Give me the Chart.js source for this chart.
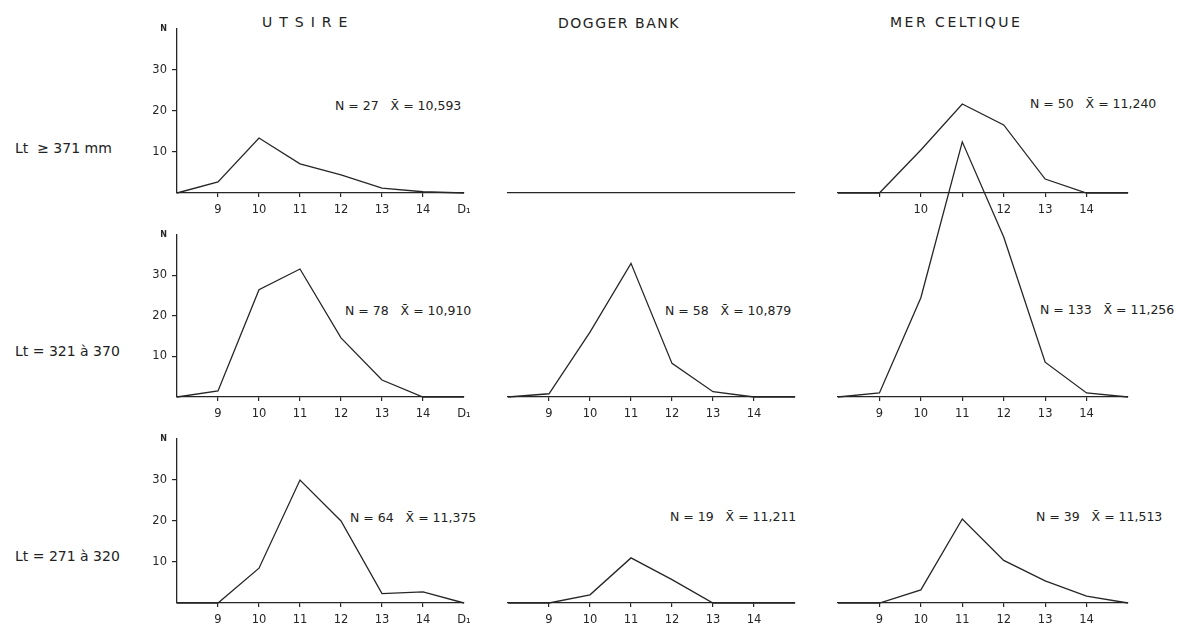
<!DOCTYPE html>
<html lang="fr">
<head>
<meta charset="UTF-8">
<title>Utsire - Dogger Bank - Mer Celtique</title>
<script src="https://cdn.jsdelivr.net/npm/chart.js"></script>
<style>
    body {
        margin: 0;
        background: #fff;
        width: 1187px;
        height: 625px;
        position: relative;
        overflow: hidden;
        font-family: "DejaVu Sans", sans-serif;
        color: #222;
    }
    canvas { position: absolute; }
    .txt { position: absolute; white-space: pre; line-height: 14px; font-size: 12.5px; }
    .titre { font-size: 14px; }
    .ligne { font-size: 14px; }
</style>
</head>
<body>

<div class="txt titre" style="left:262px;top:15px;letter-spacing:7px">UTSIRE</div>
<div class="txt titre" style="left:558px;top:16px;letter-spacing:1.5px">DOGGER BANK</div>
<div class="txt titre" style="left:890px;top:15px;letter-spacing:2.5px">MER CELTIQUE</div>

<div class="txt ligne" style="left:15px;top:141px">Lt  ≥ 371 mm</div>
<div class="txt ligne" style="left:15px;top:344px">Lt = 321 à 370</div>
<div class="txt ligne" style="left:15px;top:549px">Lt = 271 à 320</div>

<div class="txt" style="left:335px;top:99px">N = 27   X̄ = 10,593</div>
<div class="txt" style="left:1030px;top:97px">N = 50   X̄ = 11,240</div>
<div class="txt" style="left:345px;top:304px">N = 78   X̄ = 10,910</div>
<div class="txt" style="left:665px;top:304px">N = 58   X̄ = 10,879</div>
<div class="txt" style="left:1040px;top:303px">N = 133   X̄ = 11,256</div>
<div class="txt" style="left:350px;top:511px">N = 64   X̄ = 11,375</div>
<div class="txt" style="left:670px;top:510px">N = 19   X̄ = 11,211</div>
<div class="txt" style="left:1036px;top:510px">N = 39   X̄ = 11,513</div>

<canvas id="c00"></canvas>
<canvas id="c01"></canvas>
<canvas id="c02"></canvas>
<canvas id="c10"></canvas>
<canvas id="c11"></canvas>
<canvas id="c20"></canvas>
<canvas id="c21"></canvas>
<canvas id="c22"></canvas>
<canvas id="c12"></canvas>

<script>
    // classes de D1
    var classes = [8, 9, 10, 11, 12, 13, 14, 15];

    // effectifs N
    var utsire_371 = [0, 2.7, 13.4, 7.1, 4.4, 1.2, 0.3, 0];
    var dogger_371 = [];
    var celtique_371 = [0, 0, 10.5, 21.7, 16.6, 3.4, 0, 0];

    var utsire_321 = [0, 1.5, 26.5, 31.6, 14.6, 4.2, 0, 0];
    var dogger_321 = [0, 0.8, 16, 33, 8.3, 1.3, 0, 0];
    var celtique_321 = [0, 1, 24.5, 63, 39.5, 8.6, 1, 0];

    var utsire_271 = [0, 0, 8.5, 30, 20, 2.3, 2.7, 0];
    var dogger_271 = [0, 0, 2, 11, 5.7, 0, 0, 0];
    var celtique_271 = [0, 0, 3.2, 20.5, 10.4, 5.4, 1.7, 0];

    // textes des graduations
    var ticks_gauche = ['', '9', '10', '11', '12', '13', '14', 'D₁'];
    var ticks_normal = ['', '9', '10', '11', '12', '13', '14', ''];
    var ticks_celtique_haut = ['', '', '10', '', '12', '13', '14', ''];
    var ticks_vide = ['', '', '', '', '', '', '', ''];
    var y_ticks = [10, 20, 30];

    var encre = '#262626';
    var col_x8 = [177, 508, 838];
    var col_x15 = [464, 795, 1128];
    var row_y0 = [193, 397, 603];
    var row_h = [164, 162, 164];

    function panneau(id, lig, col, valeurs, textes, options) {
        options = options || {};
        var axeY = col === 0;
        var marques = options.marques !== false;
        var padT = options.padT || 10;
        var padL = 4, padR = 16, axeYW = axeY ? 42 : 0, axeXH = 30;
        var largeur = col_x15[col] - col_x8[col];
        var canvas = document.getElementById(id);
        var w = largeur + padL + padR + axeYW;
        var h = padT + row_h[lig] + axeXH;
        canvas.width = w;
        canvas.height = h;
        canvas.style.left = (col_x8[col] - padL - axeYW) + 'px';
        canvas.style.top = (row_y0[lig] - row_h[lig] - padT) + 'px';

        new Chart(canvas.getContext('2d'), {
            type: 'line',
            data: {
                labels: classes,
                datasets: [{
                    data: valeurs,
                    borderColor: encre,
                    borderWidth: 1.3,
                    pointRadius: 0,
                    tension: 0,
                    fill: false,
                    clip: false
                }]
            },
            options: {
                responsive: false,
                animation: false,
                layout: { padding: { top: padT, left: padL, right: padR, bottom: 0 } },
                plugins: { legend: { display: false }, tooltip: { enabled: false } },
                scales: {
                    x: {
                        type: 'category',
                        offset: false,
                        afterFit: function (s) { s.height = axeXH; s.paddingLeft = 0; s.paddingRight = 0; },
                        border: { display: true, color: encre, width: 1.3 },
                        grid: {
                            drawOnChartArea: false,
                            drawTicks: true,
                            tickLength: 4,
                            lineWidth: 1.2,
                            color: function (ctx) {
                                return (marques && ctx.index >= 1 && ctx.index <= 6) ? encre : 'rgba(0,0,0,0)';
                            }
                        },
                        ticks: {
                            autoSkip: false,
                            maxRotation: 0,
                            padding: 6,
                            color: encre,
                            font: { family: 'DejaVu Sans', size: 11.5 },
                            callback: function (v, i) { return textes[i]; }
                        }
                    },
                    y: {
                        display: axeY,
                        min: 0,
                        max: 40,
                        afterFit: function (s) { s.width = axeYW; },
                        border: { display: true, color: encre, width: 1.3 },
                        grid: {
                            drawOnChartArea: false,
                            drawTicks: true,
                            tickLength: 5,
                            lineWidth: 1.2,
                            color: function (ctx) {
                                var v = ctx.tick ? ctx.tick.value : 0;
                                return y_ticks.indexOf(v) >= 0 ? encre : 'rgba(0,0,0,0)';
                            }
                        },
                        ticks: {
                            stepSize: 10,
                            padding: 5,
                            color: encre,
                            font: function (ctx) {
                                return (ctx.tick && ctx.tick.value === 40)
                                    ? { family: 'DejaVu Sans', size: 8, weight: 'bold' }
                                    : { family: 'DejaVu Sans', size: 11.5 };
                            },
                            callback: function (v) {
                                if (v === 40) return 'N';
                                return y_ticks.indexOf(v) >= 0 ? String(v) : '';
                            }
                        }
                    }
                }
            }
        });
    }

    panneau('c00', 0, 0, utsire_371, ticks_gauche);
    panneau('c01', 0, 1, dogger_371, ticks_vide, { marques: false });
    panneau('c02', 0, 2, celtique_371, ticks_celtique_haut);
    panneau('c10', 1, 0, utsire_321, ticks_gauche);
    panneau('c11', 1, 1, dogger_321, ticks_normal);
    panneau('c20', 2, 0, utsire_271, ticks_gauche);
    panneau('c21', 2, 1, dogger_271, ticks_normal);
    panneau('c22', 2, 2, celtique_271, ticks_normal);
    // le pic de la Mer Celtique déborde dans le panneau du dessus
    panneau('c12', 1, 2, celtique_321, ticks_normal, { padT: 140 });
</script>
</body>
</html>
